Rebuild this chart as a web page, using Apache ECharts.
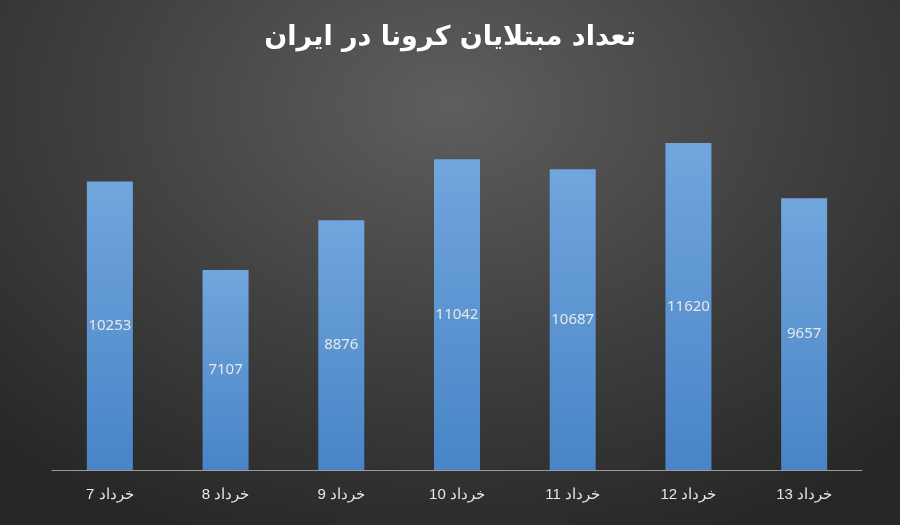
<!DOCTYPE html>
<html><head><meta charset="utf-8">
<script src="https://cdn.jsdelivr.net/npm/echarts@6/dist/echarts.min.js"></script>
<style>html,body{margin:0;padding:0;}#c{width:900px;height:525px;background:radial-gradient(ellipse 75% 90% at 50% 20%,#5e5e5e 0%,#3e3e3e 55%,#262626 100%);}</style>
</head><body><div id="c"></div>
<script>
const categories = ["7 خرداد","8 خرداد","9 خرداد","10 خرداد","11 خرداد","12 خرداد","13 خرداد"];
const values = [10253,7107,8876,11042,10687,11620,9657];
const title = "تعداد مبتلایان کرونا در ایران";
const chart = echarts.init(document.getElementById('c'));
chart.setOption({
  backgroundColor:'transparent',
  title:{text:title,left:'center',top:19,textStyle:{color:'#ffffff',fontSize:27,fontWeight:'bold',fontFamily:'DejaVu Sans'}},
  grid:{left:52,right:38,top:76,bottom:55},
  xAxis:{type:'category',data:categories,axisLine:{lineStyle:{color:'#9a9a9a'}},axisTick:{show:false},
    axisLabel:{color:'#e6e6e6',fontSize:15,margin:17,fontFamily:'Liberation Sans'}},
  yAxis:{type:'value',min:0,max:14000,show:false,splitLine:{show:false}},
  series:[{type:'bar',data:values,barWidth:46,
    itemStyle:{color:new echarts.graphic.LinearGradient(0,0,0,1,[{offset:0,color:'#71a6dd'},{offset:1,color:'#4884c7'}])},
    label:{show:true,position:'inside',color:'#e8e8e8',fontSize:15,fontFamily:'Noto Sans'}}]
});
</script></body></html>
